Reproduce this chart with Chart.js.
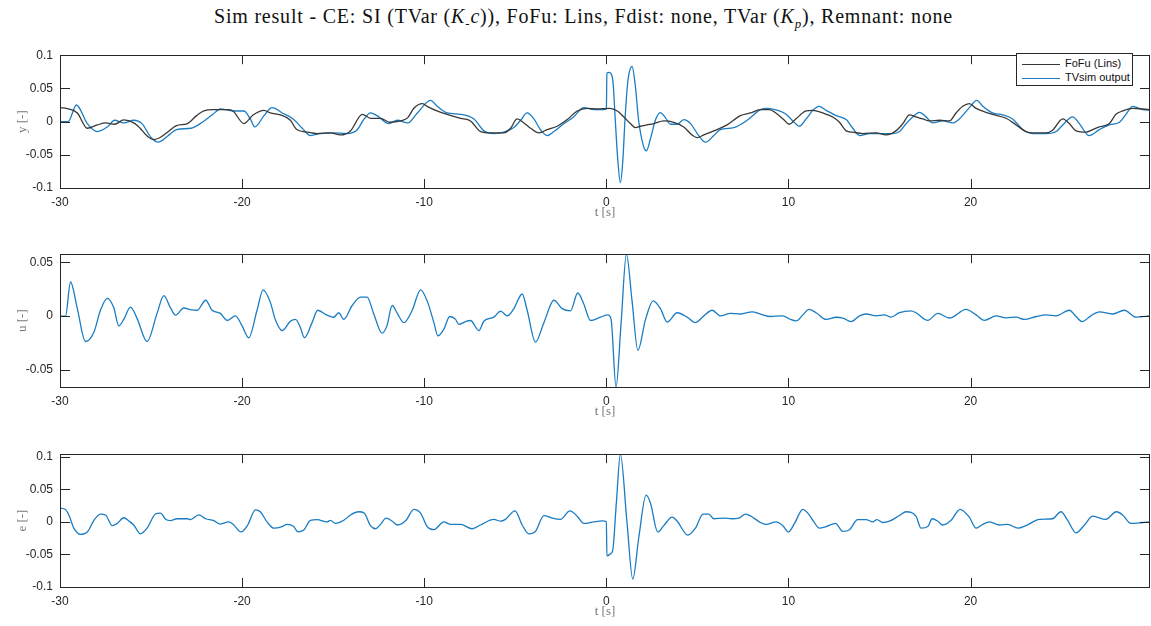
<!DOCTYPE html>
<html>
<head>
<meta charset="utf-8">
<script src="https://cdn.jsdelivr.net/npm/chart.js@4.4.0/dist/chart.umd.min.js"></script>
<style>
  body { margin: 0; background: #fff; width: 1151px; height: 626px; position: relative; overflow: hidden; }
  #title { position: absolute; left: 8px; top: 5px; width: 1151px; text-align: center; letter-spacing: 0.8px;
           font-family: "Liberation Serif", "DejaVu Serif", serif; font-size: 20px; color: #111; }
  #title sub { font-size: 13px; }
  .panel { position: absolute; left: 0; }
  #legend { position: absolute; left: 1016px; top: 53px; width: 117px; height: 33px;
            border: 1px solid #262626; background: #fff; box-sizing: border-box;
            font-family: "Liberation Sans", Arial, sans-serif; font-size: 11px; color: #111; }
  #legend .row { position: absolute; left: 5px; height: 14px; line-height: 14px; white-space: nowrap; }
  #legend .sw { display: inline-block; width: 38px; height: 0; vertical-align: middle; margin-right: 5px; }
</style>
</head>
<body>
<div id="title">Sim result - CE: SI (TVar (<i>K</i><sub>-</sub><i>c</i>)), FoFu: Lins, Fdist: none, TVar (<i>K<sub>p</sub></i>), Remnant: none</div>

<div class="panel" style="top:41px"><canvas id="plotY" width="1151" height="183"></canvas></div>
<div class="panel" style="top:240px"><canvas id="plotU" width="1151" height="183"></canvas></div>
<div class="panel" style="top:440px"><canvas id="plotE" width="1151" height="183"></canvas></div>

<div id="legend">
  <div class="row" style="top:2px"><span class="sw" id="swRef"></span>FoFu (Lins)</div>
  <div class="row" style="top:16px"><span class="sw" id="swSim"></span>TVsim output</div>
</div>

<script>
// FoFu (Lins) reference
const refT = [-30, -29.6, -29.05, -28.5, -27.95, -27.5, -27.0, -26.5, -25.95, -25.6, -25.2, -24.85, -24.5, -24.1, -23.6, -23.0,
  -22.5, -22.1, -21.6, -20.8, -20.5, -19.9, -19.4, -18.8, -18.45, -17.9, -17.35, -17.0, -16.4, -15.9, -15.15, -14.6, -14.05,
  -13.4, -12.95, -12.4, -11.9, -11.3, -10.9, -10.57, -10.1, -9.84, -9.3, -8.74, -8.0, -7.46, -6.9, -6.36, -5.63, -5.26, -4.9,
  -4.53, -4.16, -3.7, -3.25, -2.7, -2.15, -1.6, -1.05, -0.5, 0.2, 0.6, 0.95, 1.32, 1.59, 1.87, 2.23, 2.6, 3.15, 3.7, 4.25,
  4.7, 4.98, 5.35, 5.9, 6.63, 7.36, 7.9, 8.46, 8.96, 9.3, 9.7, 10.05, 10.4, 10.97, 11.34, 11.88, 12.43, 12.8, 13.17, 13.53,
  14.08, 14.81, 15.36, 15.9, 16.28, 16.64, 17.0, 17.37, 17.74, 18.29, 18.84, 19.2, 19.57, 19.93, 20.3, 20.85, 21.2, 21.95,
  22.5, 23.04, 23.41, 24.14, 24.5, 25.06, 25.42, 25.79, 26.34, 26.7, 27.07, 27.62, 27.98, 28.35, 28.9, 29.45, 29.85];
const refY = [0.021, 0.0195, 0.013, -0.010, -0.005, -0.002, -0.004, 0.0025, -0.002, -0.010, -0.022, -0.027, -0.024, -0.016, -0.006, -0.003,
  0.009, 0.016, 0.018, 0.018, 0.016, -0.003, 0.010, 0.017, 0.013, 0.010, 0.002, -0.012, -0.016, -0.018, -0.017, -0.020, -0.014,
  0.011, 0.005, 0.005, -0.001, 0.001, 0.006, 0.020, 0.027, 0.023, 0.016, 0.011, 0.005, 0.001, -0.015, -0.017, -0.017, -0.010, 0.004,
  -0.002, -0.010, -0.017, -0.012, -0.007, 0.003, 0.016, 0.020, 0.019, 0.020, 0.016, 0.0073, -0.003, -0.009, -0.007, -0.005, -0.003, 0.001, -0.001, -0.008,
  -0.020, -0.024, -0.020, -0.014, -0.005, 0.009, 0.013, 0.018, 0.018, 0.013, 0.004, -0.004, 0.004, 0.016, 0.017, 0.013, 0.007, -0.001, -0.014, -0.016,
  -0.018, -0.017, -0.020, -0.014, -0.003, 0.010, 0.007, 0.004, 0.001, 0.002, 0.001, 0.013, 0.023, 0.027, 0.020, 0.014, 0.011, 0.005,
  -0.005, -0.015, -0.017, -0.017, -0.013, 0.004, -0.003, -0.014, -0.016, -0.012, -0.008, -0.003, 0.011, 0.016, 0.020, 0.019, 0.018];

// TVsim output
const simT = [-30, -29.55, -29.1, -28.5, -27.95, -27.4, -27.0, -26.5, -25.95, -25.5, -25.0, -24.6, -24.1, -23.6, -22.8, -22.3,
  -21.6, -21.2, -20.5, -19.9, -19.55, -19.3, -18.8, -18.35, -17.8, -17.2, -16.7, -16.25, -15.7, -15.0, -14.25, -13.7, -13.3,
  -12.95, -12.6, -11.94, -11.48, -10.9, -10.38, -9.65, -9.29, -8.74, -8.0, -7.27, -6.72, -6.18, -5.63, -5.08, -4.71, -4.35,
  -3.98, -3.6, -3.25, -2.88, -2.33, -1.8, -1.24, -0.69, -0.14, 0, 0.03, 0.15, 0.26, 0.37, 0.49, 0.62, 0.77, 0.9, 1.04, 1.19,
  1.41, 1.59, 1.77, 2.05, 2.2, 2.41, 2.69, 2.96, 3.24, 3.52, 3.88, 4.25, 4.62, 5.07, 5.44, 5.9, 6.26, 7.0, 7.73, 8.46, 8.83,
  9.5, 9.87, 10.24, 10.6, 10.97, 11.34, 11.67, 12.07, 12.62, 13.17, 13.53, 13.9, 14.45, 15.18, 15.73, 16.1, 16.46, 16.82,
  17.19, 17.56, 17.92, 18.47, 19.02, 19.38, 19.93, 20.34, 20.67, 21.2, 21.76, 22.31, 22.86, 23.41, 24.14, 24.7, 25.06, 25.6,
  25.97, 26.5, 27.07, 27.62, 28.17, 28.53, 28.9, 29.45, 29.85];
const simY = [0, 0, 0.025, -0.003, -0.015, -0.008, 0.002, -0.002, 0.002, -0.003, -0.024, -0.031, -0.022, -0.012, -0.010, -0.003,
  0.011, 0.019, 0.016, 0.016, 0.004, -0.008, 0.009, 0.021, 0.013, 0.004, -0.010, -0.021, -0.018, -0.017, -0.018, -0.013, 0.004,
  0.013, 0.009, -0.003, 0.002, -0.002, 0.013, 0.032, 0.023, 0.013, 0.011, 0.004, -0.014, -0.018, -0.016, -0.009, 0.002, 0.013,
  0.004, -0.013, -0.021, -0.015, -0.003, 0.007, 0.021, 0.018, 0.018, 0.019, 0.073, 0.074, 0.072, 0.058, 0.002, -0.055, -0.092, -0.060, 0.011, 0.063,
  0.083, 0.054, 0.002, -0.038, -0.044, -0.027, 0.002, 0.0135, 0.006, -0.004, -0.004, 0.003, -0.003, -0.021, -0.031, -0.021, -0.012, -0.009, 0.002, 0.018, 0.020,
  0.016, 0.011, 0.001, -0.007, 0.004, 0.017, 0.023, 0.017, 0.009, 0.003, -0.010, -0.021, -0.018, -0.018, -0.018, -0.015, -0.003, 0.007,
  0.014, 0.007, -0.002, 0.001, -0.002, 0.004, 0.021, 0.032, 0.023, 0.013, 0.010, 0.004, -0.012, -0.018, -0.018, -0.015, -0.005, 0.007,
  -0.003, -0.021, -0.012, -0.005, -0.001, 0.011, 0.023, 0.018, 0.017];

// control signal u
const uT = [-30, -29.7, -29.42, -29.06, -28.6, -28.14, -27.78, -27.4, -27.05, -26.77, -26.5, -26.13, -25.77, -25.22, -24.67, -24.3,
  -23.94, -23.66, -23.2, -22.84, -22.47, -22.0, -21.65, -21.2, -20.82, -20.37, -20.0, -19.64, -19.18, -18.85, -18.45, -18.18,
  -17.8, -17.35, -17.07, -16.8, -16.58, -16.16, -15.85, -15.34, -14.97, -14.7, -14.42, -13.96, -13.5, -13.14, -12.78, -12.32,
  -12.05, -11.76, -11.48, -11.12, -10.66, -10.2, -9.84, -9.47, -9.25, -8.92, -8.6, -8.28, -8.1, -7.73, -7.46, -7.0, -6.73,
  -6.18, -5.81, -5.44, -5.08, -4.62, -4.35, -3.89, -3.43, -2.88, -2.43, -1.97, -1.57, -1.24, -0.87, -0.32, 0.08, 0.26, 0.53,
  0.81, 1.1, 1.41, 1.73, 2.15, 2.57, 2.97, 3.34, 3.89, 4.43, 4.89, 5.35, 5.81, 6.26, 6.81, 7.36, 8.0, 8.46, 9.0, 9.69, 10.05,
  10.42, 10.79, 11.12, 11.52, 12.07, 12.62, 12.98, 13.44, 13.9, 14.26, 14.81, 15.27, 15.63, 16.09, 16.73, 17.0, 17.65, 18.2,
  18.84, 19.75, 20.3, 20.76, 21.4, 21.95, 22.5, 22.95, 23.6, 24.14, 24.69, 25.42, 25.79, 26.12, 26.6, 27.07, 27.8, 28.44,
  29.08, 29.85];
const uVal = [0, 0, 0.0317, 0.008, -0.0235, -0.015, 0.0055, 0.0166, 0.008, -0.009, -0.003, 0.0084, -0.002, -0.0235, 0.0026, 0.019,
  0.008, 0.001, 0.0076, 0.006, 0.0055, 0.0148, 0.0055, 0.0026, -0.004, 0.0003, -0.009, -0.020, 0.0055, 0.0244, 0.0128, -0.003,
  -0.0134, -0.0047, -0.003, -0.0105, -0.020, -0.006, 0.0055, 0.001, -0.001, 0.0032, -0.003, 0.0099, 0.0177, 0.0177, 0.0026, -0.0157,
  -0.009, 0.0099, 0.0026, -0.006, 0.0055, 0.0244, 0.0142, -0.006, -0.0183, -0.012, -0.0003, -0.003, -0.0076, -0.005, -0.004, -0.0134, -0.0047,
  -0.0009, 0.0047, 0.0003, 0.007, 0.0206, 0.0055, -0.024, -0.006, 0.0148, 0.007, 0.005, 0.0215, 0.0113, -0.004, -0.0009, 0.0012, -0.003, -0.0657,
  -0.006, 0.0575, 0.0142, -0.0317, -0.003, 0.0142, 0.007, -0.0055, 0.0032, -0.0009, -0.006, 0.0003, 0.0055, 0.0003, 0.0026, 0.002, 0.004, 0.002, -0.0003, 0.0003, -0.0026,
  -0.0044, 0.0012, 0.0064, 0.0032, -0.003, -0.001, -0.0017, -0.005, 0.0003, 0.002, 0.0003, 0.0012, -0.0009, 0.0032, 0.005, 0.0032, -0.0038, 0.0026,
  -0.0017, 0.0064, 0.0012, -0.0038, 0.0003, -0.0015, -0.0009, -0.003, -0.0003, 0.0012, 0.0003, 0.0055, -0.0003, -0.005, 0.0003, 0.004, 0.002, 0.0055,
  -0.0009, 0.0003];

// tracking error e
const eT = [-30, -29.7, -29.5, -29.24, -28.87, -28.47, -28.14, -27.78, -27.5, -27.13, -26.86, -26.5, -26.22, -25.95, -25.58, -25.22,
  -24.76, -24.48, -24.2, -23.94, -23.57, -23.0, -22.84, -22.38, -22.0, -21.56, -21.2, -20.73, -20.46, -20.06, -19.69, -19.27,
  -19.0, -18.63, -18.26, -17.8, -17.53, -17.17, -16.93, -16.6, -16.25, -15.88, -15.34, -15.15, -14.88, -14.42, -14.05, -13.6,
  -13.3, -12.95, -12.68, -12.4, -12.1, -11.77, -11.48, -11.0, -10.57, -10.2, -9.84, -9.47, -8.92, -8.55, -8.0, -7.37, -6.91,
  -6.18, -5.81, -5.54, -5.02, -4.62, -4.26, -3.89, -3.43, -2.97, -2.52, -2.0, -1.6, -1.24, -0.69, -0.23, 0, 0.03, 0.23, 0.35,
  0.55, 0.77, 1.13, 1.45, 1.78, 2.18, 2.42, 2.82, 3.15, 3.61, 3.89, 4.47, 4.89, 5.31, 5.62, 5.9, 6.45, 6.9, 7.27, 7.64, 8.1,
  8.4, 8.77, 9.32, 9.69, 10.0, 10.33, 10.79, 11.06, 11.34, 11.7, 12.07, 12.58, 12.98, 13.35, 13.8, 14.26, 14.63, 14.85, 15.18,
  15.54, 16.09, 16.46, 17.0, 17.28, 17.65, 17.89, 18.2, 18.47, 18.93, 19.42, 19.93, 20.3, 20.67, 21.03, 21.58, 22.04, 22.59,
  23.04, 23.78, 24.5, 24.96, 25.33, 25.79, 26.25, 26.7, 27.43, 28.0, 28.35, 28.8, 29.45, 29.85];
const eVal = [0.0208, 0.019, 0.0097, -0.0097, -0.0193, -0.0145, 0.0024, 0.012, 0.0106, -0.0058, -0.0024, 0.0063, 0.0014, -0.0048, -0.0184, -0.0097,
  0.012, 0.0135, 0.0039, 0.0019, 0.0048, 0.0048, 0.0034, 0.0106, 0.0048, 0.0019, -0.0034, 0, -0.0048, -0.0155, -0.0048, 0.0184,
  0.0155, 0, -0.0097, -0.0072, -0.0039, -0.0072, -0.0155, -0.012, 0.0024, 0.0034, 0, 0.0024, -0.0024, 0.0024, 0.0106, 0.0155,
  0.0135, -0.0058, -0.0106, -0.0039, 0.0058, 0.0014, -0.0048, 0.0024, 0.0193, 0.0135, -0.0072, -0.012, 0, -0.0039, -0.0039, -0.0106, -0.0048,
  0.0039, 0.001, 0.0039, 0.0169, -0.0048, -0.0184, -0.0145, 0.0097, 0.0058, 0.0039, 0.0169, 0.0087, -0.0024, 0, 0.0014, 0.0005, -0.0522, -0.049, -0.0435,
  0.030, 0.1039, 0, -0.0879, -0.024, 0.041, 0.029, -0.0155, -0.0058, 0.0072, 0.001, -0.0203, -0.0097, 0.012, 0.012, 0.0048, 0.0058, 0.0048, 0.0058, 0.012, 0.0058,
  0, -0.0039, 0, -0.0058, -0.0155, -0.0024, 0.0193, 0.0135, 0.0024, -0.0097, -0.0072, -0.0024, -0.0145, -0.012, 0.0034, 0.0034, 0, 0.0034, -0.001,
  0.001, 0.0097, 0.0155, 0.0087, -0.0097, -0.0072, 0.0048, 0.001, -0.0048, 0.0024, 0.0193, 0.0072, -0.0097, -0.0039, 0, -0.0048, -0.0039, -0.0097,
  -0.0058, 0.0039, 0.0048, 0.0155, 0.0024, -0.0169, -0.0048, 0.0087, 0.0039, 0.0155, 0.0106, -0.0024, -0.001, 0];

const tRange = [-30, 29.85];
const yTicksY = [-0.1, -0.05, 0, 0.05, 0.1];
const BLUE = '#1a7cc2', DARK = '#383838', AXIS = '#262626';

const pts = (t, v) => t.map((x, i) => ({ x, y: v[i] }));

document.getElementById('swRef').style.borderTop = '1.3px solid ' + DARK;
document.getElementById('swSim').style.borderTop = '1.3px solid ' + BLUE;

// box around the axes + inward ticks on all four sides
const boxTicks = {
  id: 'boxTicks',
  afterDatasetsDraw(chart) {
    const { ctx, chartArea: a, scales: { x, y } } = chart;
    ctx.save();
    ctx.strokeStyle = AXIS;
    ctx.lineWidth = 1;
    ctx.beginPath();
    x.ticks.forEach(tk => {
      const px = Math.round(x.getPixelForValue(tk.value)) + 0.5;
      ctx.moveTo(px, a.bottom); ctx.lineTo(px, a.bottom - 9);
      ctx.moveTo(px, a.top); ctx.lineTo(px, a.top + 9);
    });
    y.ticks.forEach(tk => {
      const py = Math.round(y.getPixelForValue(tk.value)) + 0.5;
      ctx.moveTo(a.left, py); ctx.lineTo(a.left + 10, py);
      ctx.moveTo(a.right, py); ctx.lineTo(a.right - 10, py);
    });
    ctx.stroke();
    ctx.strokeRect(Math.round(a.left) + 0.5, Math.round(a.top) + 0.5, Math.round(a.width) - 1, Math.round(a.height));
    ctx.restore();
  }
};

const tickFmt = v => String(Math.round(v * 1000) / 1000);

function panel(id, datasets, yLabel, yMin, yMax) {
  return new Chart(document.getElementById(id), {
    type: 'line',
    data: { datasets },
    options: {
      responsive: false,
      animation: false,
      layout: { padding: { top: 6, left: 0, right: 1, bottom: 0 } },
      plugins: { legend: { display: false }, tooltip: { enabled: false } },
      elements: { point: { radius: 0 }, line: { borderWidth: 1.3, cubicInterpolationMode: 'monotone' } },
      scales: {
        x: {
          type: 'linear', min: tRange[0], max: tRange[1],
          grid: { display: false, drawTicks: false }, border: { display: false },
          ticks: { stepSize: 10, includeBounds: false, padding: 7, color: AXIS, callback: tickFmt,
                   font: { family: 'Liberation Sans', size: 12 } },
          title: { display: true, text: 't [s]', color: '#777', padding: { top: 0, bottom: 4 },
                   font: { family: 'Liberation Serif', size: 13 } },
          afterFit: s => { s.height = 36; }
        },
        y: {
          min: yMin, max: yMax,
          grid: { display: false, drawTicks: false }, border: { display: false },
          ticks: { stepSize: 0.05, includeBounds: false, padding: 7, color: AXIS, callback: tickFmt,
                   font: { family: 'Liberation Sans', size: 12 } },
          title: { display: true, text: yLabel, color: '#777', padding: { top: 15, bottom: 0 },
                   font: { family: 'Liberation Serif', size: 13 } },
          afterFit: s => { s.width = 60; }
        }
      }
    },
    plugins: [boxTicks]
  });
}

panel('plotY', [
  { label: 'FoFu (Lins)', data: pts(refT, refY), borderColor: DARK },
  { label: 'TVsim output', data: pts(simT, simY), borderColor: BLUE }
], 'y [-]', yTicksY[0], yTicksY[yTicksY.length - 1]);

panel('plotU', [
  { label: 'u', data: pts(uT, uVal), borderColor: BLUE }
], 'u [-]', Math.min(...uVal), Math.max(...uVal));

panel('plotE', [
  { label: 'e', data: pts(eT, eVal), borderColor: BLUE }
], 'e [-]', -0.1, Math.max(0.1, ...eVal));
</script>
</body>
</html>
